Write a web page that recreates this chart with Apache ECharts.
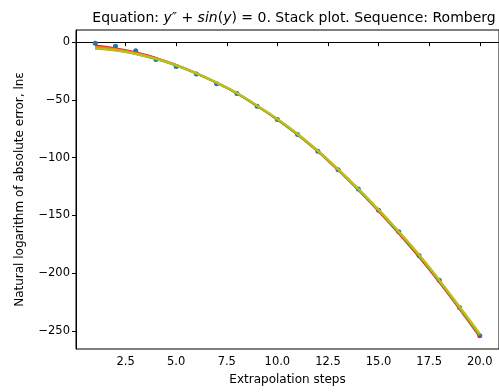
<!DOCTYPE html>
<html>
<head>
<meta charset="utf-8">
<script src="https://cdn.jsdelivr.net/npm/echarts@6/dist/echarts.min.js"></script>
<style>html,body{margin:0;padding:0;background:#fff}#c{width:499px;height:392px}</style>
</head>
<body>
<div id="c"></div>
<script>
const steps = [1,2,3,4,5,6,7,8,9,10,11,12,13,14,15,16,17,18,19,20];
const errorPoints = [-1,-3.5,-7.5,-15,-21,-27.5,-36,-44.5,-55.5,-67,-80,-94.5,-110.5,-127,-145.5,-164,-184.5,-206,-229.5,-254];
const redLine = [-3,-5.3,-8.8,-13.6,-19.7,-26.9,-35.1,-44.3,-55.3,-67,-80,-94.6,-110.8,-128,-146.3,-165.6,-186,-207.8,-231,-255];
const orangeLine = [-4,-6,-9.3,-14,-20,-27,-35.2,-44.3,-55.3,-67,-80,-94.5,-110.5,-127.5,-145.6,-164.8,-185.2,-207,-230.3,-254];
const greenLine = [-5.5,-7,-10.2,-14.6,-20.2,-27.2,-35.3,-44.4,-55.3,-67,-80,-94.5,-110.5,-127.5,-145.5,-164.5,-184.8,-206.6,-229.8,-253.5];
const oliveLine = [-5.5,-7,-10,-14.5,-20,-27,-35,-44,-55,-66.5,-79.5,-94,-110,-127,-145,-164,-184,-206,-229,-252.5];
const xTicks = [2.5,5,7.5,10,12.5,15,17.5,20];
const yTicks = [-250,-200,-150,-100,-50,0];

const pair = (ys) => steps.map((x,i)=>[x, ys[i]]);
const font = 'DejaVu Sans';
const chart = echarts.init(document.getElementById('c'), null, {renderer:'canvas'});
const lineS = (data,color,w,z) => ({type:'line', data:pair(data), smooth:true, showSymbol:false, symbol:'none',
  lineStyle:{color:color,width:w}, z:z, silent:true});
chart.setOption({
  animation:false,
  backgroundColor:'#fff',
  title:{
    left:289, top:6, textAlign:'center',
    text:'{n|Equation: }{i|y″}{n| + }{i|sin}{n|(}{i|y}{n|) = 0. Stack plot. Sequence: Romberg}',
    textStyle:{fontWeight:'normal',rich:{
      n:{fontFamily:font,fontSize:14,fontWeight:'normal',color:'#000'},
      i:{fontFamily:font,fontSize:14,fontWeight:'normal',fontStyle:'italic',color:'#000'}
    }}
  },
  grid:{left:76, top:30, width:430.5, height:319, show:true, borderColor:'#000', borderWidth:1, backgroundColor:'transparent'},
  xAxis:{
    type:'value', min:0.05, max:20.95,
    name:'Extrapolation steps', nameLocation:'middle', nameGap:25,
    nameTextStyle:{fontFamily:font,fontSize:12,color:'#000'},
    axisLine:{show:true,lineStyle:{color:'#000',width:1}},
    axisTick:{show:true,length:4,lineStyle:{color:'#000'},customValues:xTicks},
    axisLabel:{color:'#000',fontFamily:font,fontSize:11.5,margin:7,customValues:xTicks,formatter:v=>v.toFixed(1)},
    splitLine:{show:false}
  },
  yAxis:{
    type:'value', min:-265.5, max:10.5,
    name:'Natural logarithm of absolute error, lnε', nameLocation:'middle', nameGap:50, nameRotate:90,
    nameTextStyle:{fontFamily:font,fontSize:12,color:'#000'},
    axisLine:{show:true,lineStyle:{color:'#000',width:1}},
    axisTick:{show:true,length:4,lineStyle:{color:'#000'},customValues:yTicks},
    axisLabel:{color:'#000',fontFamily:font,fontSize:11.5,margin:6,customValues:yTicks,formatter:v=>v<0?'\u2212'+Math.abs(v):String(v)},
    splitLine:{show:false}
  },
  series:[
    {type:'scatter', data:pair(errorPoints), symbolSize:5, itemStyle:{color:'#1f77b4',opacity:1}, z:1, silent:true},
    lineS(redLine,'#d62728',2,2),
    lineS(orangeLine,'#ff7f0e',2,3),
    lineS(greenLine,'#2ca02c',2,4),
    lineS(oliveLine,'#bcbd22',2.5,5)
  ]
});
</script>
</body>
</html>
